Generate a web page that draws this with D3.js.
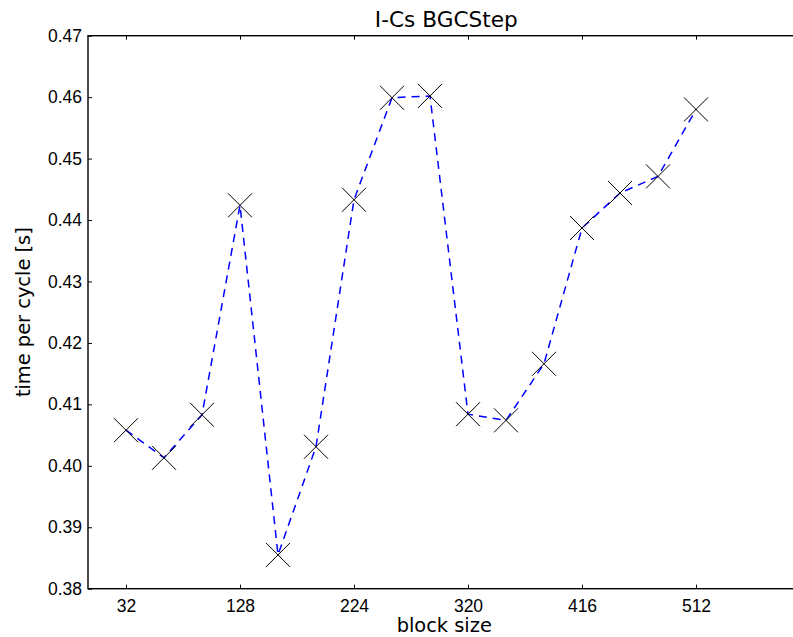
<!DOCTYPE html>
<html lang="en">
<head>
  <meta charset="UTF-8">
  <title>I-Cs BGCStep</title>
  <script src="https://d3js.org/d3.v7.min.js"></script>
  <style>
    * { margin: 0; padding: 0; box-sizing: border-box; }
    body { background: #fff; width: 793px; height: 637px; overflow: hidden; }
    svg { display: block; font-family: 'DejaVu Sans', sans-serif; }
    .tick text { font-size: 17.5px; fill: #000; }
    .domain { display: none; }
  </style>
</head>
<body>
  <svg id="chart" width="793" height="637"></svg>

  <script>
    // block sizes and measured time per cycle
    const blockSizes = [32, 64, 96, 128, 160, 192, 224, 256, 288, 320, 352, 384, 416, 448, 480, 512];
    const timePerCycle = [0.4058, 0.4013, 0.4083, 0.4424, 0.3855, 0.4031, 0.4433, 0.4599,
                          0.4602, 0.4084, 0.4074, 0.4166, 0.4387, 0.4444, 0.4471, 0.4580];
    const xTicks = [32, 128, 224, 320, 416, 512];
    const yTicks = [0.38, 0.39, 0.40, 0.41, 0.42, 0.43, 0.44, 0.45, 0.46, 0.47];

    const plotLeft = 88, plotRight = 800.5, plotTop = 35.7, plotBottom = 588.7;

    const svg = d3.select("#chart");

    const x = d3.scaleLinear().domain([0, 600]).range([plotLeft, plotRight]);
    const y = d3.scaleLinear().domain([0.38, 0.47]).range([plotBottom, plotTop]);

    // axes, ticks pointing inward
    svg.append("g")
      .attr("transform", `translate(0,${plotBottom})`)
      .call(d3.axisBottom(x).tickValues(xTicks).tickSize(-4).tickFormat(d3.format("d")))
      .call(g => g.selectAll(".tick text").attr("y", 23.5).attr("dy", 0));

    svg.append("g")
      .attr("transform", `translate(0,${plotTop})`)
      .call(d3.axisTop(x).tickValues(xTicks).tickSize(-4).tickFormat(""));

    svg.append("g")
      .attr("transform", `translate(${plotLeft},0)`)
      .call(d3.axisLeft(y).tickValues(yTicks).tickSize(-4).tickPadding(6).tickFormat(d3.format(".2f")));

    svg.selectAll(".tick line").attr("stroke", "#000").attr("stroke-width", 1);

    // frame
    svg.append("rect")
      .attr("x", plotLeft).attr("y", plotTop)
      .attr("width", plotRight - plotLeft).attr("height", plotBottom - plotTop)
      .attr("fill", "none").attr("stroke", "#000").attr("stroke-width", 1.4);

    const data = blockSizes.map((b, i) => ({ b, t: timePerCycle[i] }));

    const line = d3.line().x(d => x(d.b)).y(d => y(d.t));

    svg.append("path")
      .datum(data)
      .attr("d", line)
      .attr("fill", "none")
      .attr("stroke", "#0000ff")
      .attr("stroke-width", 1.5)
      .attr("stroke-dasharray", "8,6");

    const m = 12;
    const marks = svg.append("g")
      .selectAll("g")
      .data(data)
      .enter().append("g")
      .attr("transform", d => `translate(${x(d.b)},${y(d.t)})`);

    marks.append("path")
      .attr("d", `M${-m},${-m}L${m},${m}M${-m},${m}L${m},${-m}`)
      .attr("stroke", "#000")
      .attr("stroke-width", 1)
      .attr("fill", "none");

    // title and labels
    svg.append("text")
      .attr("x", (plotLeft + plotRight) / 2 + 2).attr("y", 27.3)
      .attr("text-anchor", "middle")
      .style("font-size", "21.6px")
      .text("I-Cs BGCStep");

    svg.append("text")
      .attr("x", (plotLeft + plotRight) / 2).attr("y", 631.5)
      .attr("text-anchor", "middle")
      .style("font-size", "19.4px")
      .text("block size");

    svg.append("text")
      .attr("transform", `translate(29.5,${(plotTop + plotBottom) / 2}) rotate(-90)`)
      .attr("text-anchor", "middle")
      .style("font-size", "19.4px")
      .text("time per cycle [s]");
  </script>
</body>
</html>
